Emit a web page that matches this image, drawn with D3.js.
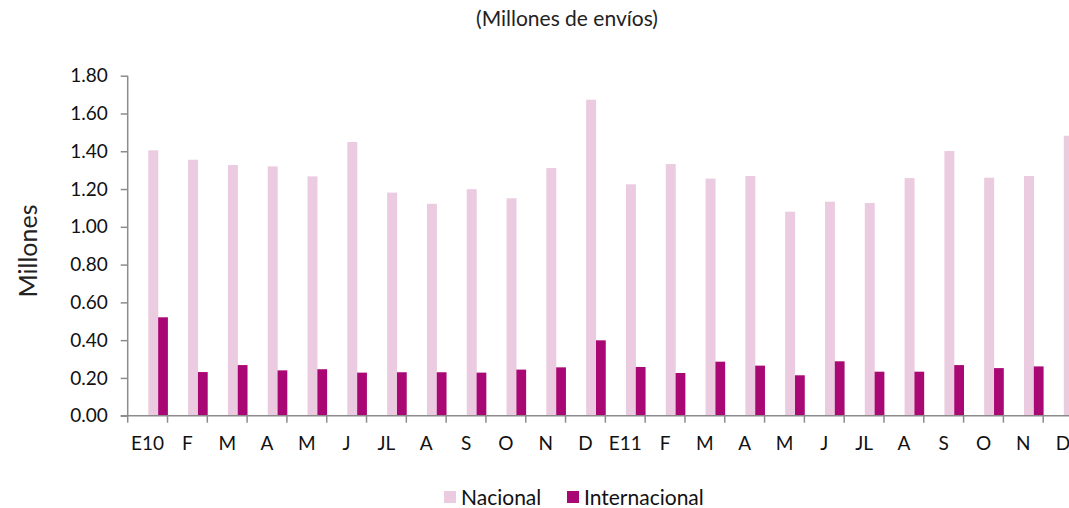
<!DOCTYPE html>
<html>
<head>
<meta charset="utf-8">
<script src="https://cdn.jsdelivr.net/npm/d3@7"></script>
<style>
  body { margin: 0; background: #fff; }
  svg { display: block; font-family: Lato, "Open Sans", sans-serif; }
</style>
</head>
<body>
<svg id="chart"></svg>
<script>
    // Data
    const months = ["E10", "F", "M", "A", "M", "J", "JL", "A", "S", "O", "N", "D",
        "E11", "F", "M", "A", "M", "J", "JL", "A", "S", "O", "N", "D"];
    const nacional = [1.405, 1.355, 1.327, 1.320, 1.267, 1.449, 1.181, 1.122, 1.199, 1.151, 1.311, 1.673,
        1.225, 1.332, 1.255, 1.269, 1.080, 1.133, 1.126, 1.258, 1.401, 1.260, 1.269, 1.482];
    const internacional = [0.521, 0.231, 0.268, 0.240, 0.246, 0.228, 0.230, 0.230, 0.228, 0.244, 0.256, 0.399,
        0.258, 0.226, 0.286, 0.265, 0.214, 0.288, 0.233, 0.233, 0.268, 0.252, 0.261, 0.26];
    const yTicks = [0, 0.2, 0.4, 0.6, 0.8, 1.0, 1.2, 1.4, 1.6, 1.8];
    const seriesNames = ["Nacional", "Internacional"];

    // Set dimensions
    const width = 1069;
    const height = 508;
    const margin = { top: 75.7, left: 127.7, bottom: 92.3 };
    const plotRight = 1083; // plot runs past the window edge, like the reference

    const colors = { nac: "#eacbdf", intl: "#a90774" };
    const axisColor = "#8c8c8c";

    const svg = d3.select("#chart")
        .attr("width", width)
        .attr("height", height);

    const x = d3.scaleBand()
        .domain(d3.range(months.length))
        .range([margin.left, plotRight]);

    const y = d3.scaleLinear()
        .domain([0, 1.8])
        .range([height - margin.bottom, margin.top]);

    const bw = x.bandwidth();

    // Title
    svg.append("text")
        .attr("x", 567)
        .attr("y", 26)
        .attr("text-anchor", "middle")
        .attr("font-size", "21px")
        .attr("fill", "#222")
        .text("(Millones de envíos)");

    // Y axis label
    svg.append("text")
        .attr("transform", `translate(37, 251) rotate(-90)`)
        .attr("text-anchor", "middle")
        .attr("font-size", "25px")
        .attr("fill", "#222")
        .text("Millones");

    // Bars
    const groups = svg.append("g");
    months.forEach((m, i) => {
        groups.append("rect")
            .attr("x", x(i) + bw * 0.518)
            .attr("y", y(nacional[i]))
            .attr("width", bw * 0.25)
            .attr("height", y(0) - y(nacional[i]))
            .attr("fill", colors.nac);
        groups.append("rect")
            .attr("x", x(i) + bw * 0.765)
            .attr("y", y(internacional[i]))
            .attr("width", bw * 0.245)
            .attr("height", y(0) - y(internacional[i]))
            .attr("fill", colors.intl);
    });

    // Y axis
    const yAxis = svg.append("g")
        .attr("transform", `translate(${margin.left},0)`)
        .call(d3.axisLeft(y).tickValues(yTicks).tickFormat(d3.format(".2f")).tickSize(7).tickPadding(13));
    yAxis.selectAll("line, path").attr("stroke", axisColor).attr("stroke-width", 1.5);
    yAxis.select(".domain").attr("d", `M0,${y(1.8)}V${y(0)}`);
    yAxis.selectAll("text")
        .attr("font-size", "19px")
        .attr("font-family", "Lato, 'Open Sans', sans-serif")
        .attr("fill", "#111");

    // X axis: ticks sit on band edges, labels at band centres
    const xAxisG = svg.append("g")
        .attr("transform", `translate(0,${y(0)})`);
    xAxisG.append("line")
        .attr("x1", margin.left - 7)
        .attr("x2", plotRight)
        .attr("stroke", axisColor)
        .attr("stroke-width", 1.5);
    d3.range(months.length + 1).forEach(i => {
        const xx = margin.left + i * bw;
        xAxisG.append("line")
            .attr("x1", xx).attr("x2", xx)
            .attr("y1", 0).attr("y2", 7)
            .attr("stroke", axisColor)
            .attr("stroke-width", 1.5);
    });
    months.forEach((m, i) => {
        xAxisG.append("text")
            .attr("x", x(i) + bw / 2)
            .attr("y", 34)
            .attr("text-anchor", "middle")
            .attr("font-size", "19px")
            .attr("fill", "#111")
            .text(m);
    });

    // Legend
    const legend = svg.append("g").attr("transform", "translate(0, 498)");
    const legendItems = [
        { name: seriesNames[0], color: colors.nac, x: 444 },
        { name: seriesNames[1], color: colors.intl, x: 567 }
    ];
    legendItems.forEach(d => {
        legend.append("rect")
            .attr("x", d.x)
            .attr("y", -7)
            .attr("width", 12)
            .attr("height", 12)
            .attr("fill", d.color);
        legend.append("text")
            .attr("x", d.x + 17)
            .attr("y", 7)
            .attr("font-size", "21px")
            .attr("fill", "#111")
            .text(d.name);
    });
</script>
</body>
</html>
